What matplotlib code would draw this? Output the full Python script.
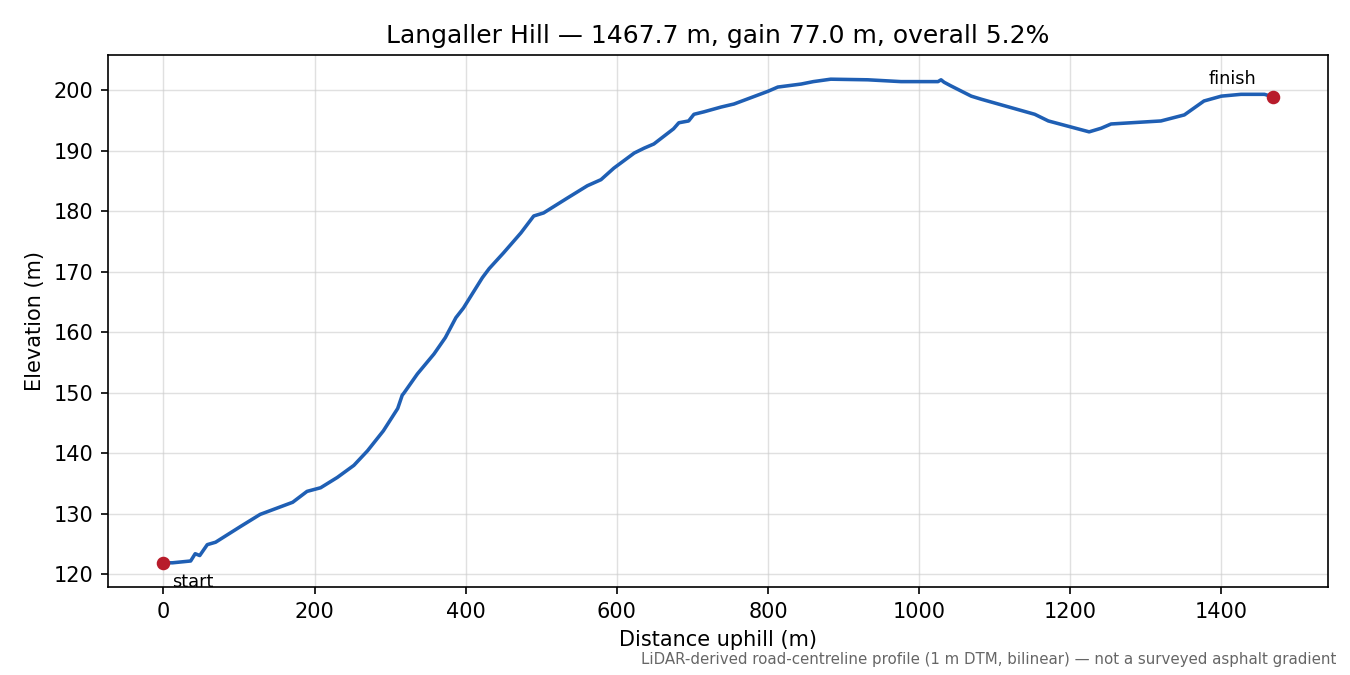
import numpy as np
import matplotlib.pyplot as plt

# Profile (distance m, elevation m)
dist = [0, 12, 36, 42, 48, 58, 69, 102, 128, 171, 190, 208, 230, 252, 270,
        291, 310, 316, 318, 336, 358, 373, 387, 397, 422, 431, 450, 473, 490,
        503, 535, 561, 579, 596, 623, 636, 649, 675, 682, 695, 702, 715, 738,
        755, 800, 813, 844, 860, 883, 932, 976, 1025, 1029, 1033, 1042, 1069,
        1082, 1153, 1171, 1201, 1225, 1241, 1254, 1320, 1351, 1377, 1400,
        1426, 1457, 1467.7]
elev = [121.9, 121.9, 122.2, 123.4, 123.1, 124.9, 125.3, 127.9, 129.9, 131.9,
        133.7, 134.3, 136.0, 138.0, 140.4, 143.7, 147.4, 149.6, 149.9, 153.1,
        156.4, 159.1, 162.4, 164.0, 169.0, 170.5, 173.1, 176.4, 179.2, 179.7,
        182.2, 184.2, 185.2, 187.1, 189.6, 190.4, 191.1, 193.6, 194.6, 194.9,
        196.0, 196.4, 197.2, 197.7, 199.8, 200.5, 201.0, 201.4, 201.8, 201.7,
        201.4, 201.4, 201.7, 201.3, 200.7, 199.0, 198.5, 196.0, 194.9, 193.9,
        193.1, 193.7, 194.4, 194.9, 195.9, 198.2, 199.0, 199.3, 199.3, 198.9]

name = "Langaller Hill"
length = dist[-1]
gain = elev[-1] - elev[0]
grade = gain / length * 100

fig = plt.figure(figsize=(9, 4.5), dpi=150)
ax = fig.add_axes([0.08, 0.1304, 0.9037, 0.7881])

ax.plot(dist, elev, color="#1f5fb4", lw=1.7, zorder=2,
        solid_joinstyle="round")
ax.plot([dist[0], dist[-1]], [elev[0], elev[-1]], "o", color="#b81c2b",
        ms=5.5, zorder=3)
ax.annotate("start", (dist[0], elev[0]), xytext=(4, -5),
            textcoords="offset points", va="top", ha="left", fontsize=8.5)
ax.annotate("finish", (dist[-1], elev[-1]), xytext=(-19, 4),
            textcoords="offset points", va="bottom", ha="center", fontsize=8.5)

ax.set_title(f"{name} \u2014 {length:.1f} m, gain {gain:.1f} m, overall {grade:.1f}%")
ax.set_xlabel("Distance uphill (m)")
ax.set_ylabel("Elevation (m)")
ax.grid(True, color="#cccccc", alpha=0.6, lw=0.7)
ax.set_axisbelow(True)

fig.text(0.99, 0.012, "LiDAR-derived road-centreline profile (1 m DTM, bilinear) "
         "\u2014 not a surveyed asphalt gradient", ha="right", va="bottom",
         fontsize=7.2, color="#666666")

fig.savefig("out.png", dpi=150)
